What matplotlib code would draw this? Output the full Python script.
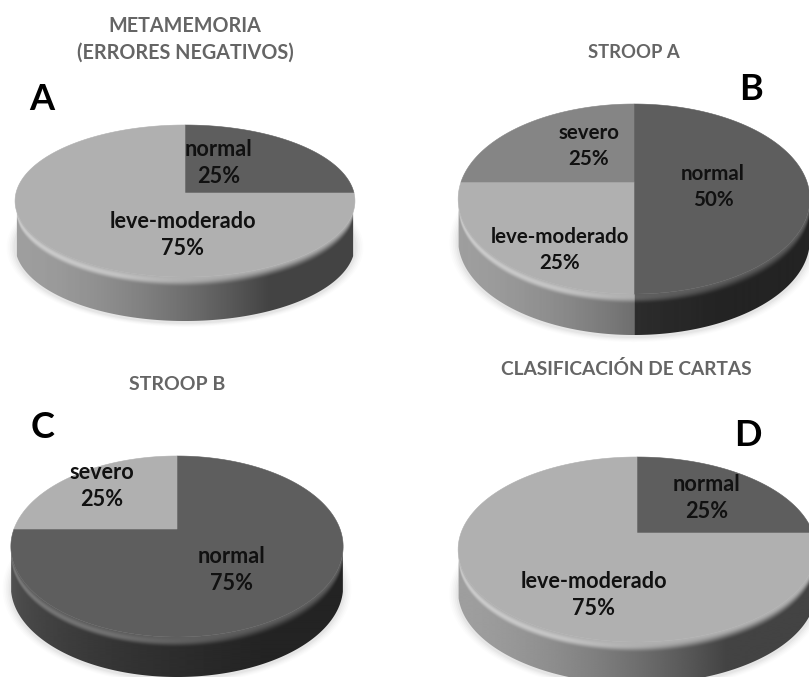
import numpy as np
import matplotlib
matplotlib.use('Agg')
import matplotlib.pyplot as plt
from matplotlib.patches import Polygon

plt.rcParams['font.family'] = ['Lato', 'DejaVu Sans']

W, H = 809, 677

# values of each pie, clockwise from twelve o'clock
meta_labels = ['normal', 'leve-moderado']
meta_values = [25, 75]
stroop_a_labels = ['normal', 'leve-moderado', 'severo']
stroop_a_values = [50, 25, 25]
stroop_b_labels = ['normal', 'severo']
stroop_b_values = [75, 25]
cartas_labels = ['normal', 'leve-moderado']
cartas_values = [25, 75]

DARK, MID, LIGHT = 0.37, 0.52, 0.69
TITLE_GREY = '#656565'


def disk(a, cx, cy, rx, top, bottom, drop=0.0):
    """Tilted unit circle: a in radians, returns pixel coordinates."""
    k = (bottom - top) / (bottom + top)
    ry = 2 * top * bottom / (top + bottom)
    u, v = np.cos(a), np.sin(a)
    s = 1 / (1 + k * v)
    return cx + rx * u * s, cy - ry * v * s + drop


def wall_grey(g, t):
    # light slices keep their brightness longer across the wall
    p = np.where(g > 0.5, 1.6, 0.5)
    return g * (0.9 - 0.52 * np.minimum(t / 0.75, 1) ** p)


def draw_wall(ax, edges, greys, cx, cy, rx, top, bottom, depth):
    # front half of the rim, left to right
    arc = np.linspace(np.pi + 0.25, 2 * np.pi - 0.25, 600)
    ax_x, ax_y = disk(arc, cx, cy, rx, top, bottom)
    xb, yb = disk(arc, cx, cy, rx, top, bottom, depth)
    outline = np.r_[np.c_[ax_x, ax_y], np.c_[xb, yb][::-1]]

    xs = np.arange(np.floor(ax_x[0]), np.ceil(ax_x[-1]) + 1, 0.5)
    ys = np.arange(np.floor(ax_y.min()) - 2, np.ceil(yb.max()) + 2, 0.5)
    gx, gy = np.meshgrid(xs, ys)

    rim = np.interp(xs, ax_x, ax_y)
    ang = np.interp(xs, ax_x, arc)
    # which slice sits above each column
    lookup = (np.pi / 2 - ang) % (2 * np.pi)
    start = (np.pi / 2 - edges[:-1]) % (2 * np.pi)
    stop = start + (edges[:-1] - edges[1:])
    col_g = np.zeros_like(xs)
    for s, e, g in zip(start, stop, greys):
        col_g[(lookup >= s - 1e-9) & (lookup <= e + 1e-9)] = g

    t = (gx - xs[0]) / (xs[-1] - xs[0])
    face = col_g[None, :] * np.ones_like(gx)
    side = wall_grey(face, t)

    # bevel: the face colour fades into the wall just below the rim
    width = 2 + 9 * np.clip(-np.sin(ang) / 0.35, 0, 1)
    f = np.clip((gy - rim[None, :]) / width[None, :], 0, 1)
    f = f * f * (3 - 2 * f)
    shine = 0.14 * np.clip(0.6 - (gx - cx) / rx, 0, 1) * np.sin(np.pi * f)
    img = np.clip(face * (1 - f) + side * f + shine, 0, 1)

    patch = Polygon(outline, transform=ax.transData, fc='none', ec='none')
    ax.add_patch(patch)
    im = ax.imshow(img, cmap='gray', vmin=0, vmax=1, aspect='auto', zorder=2,
                   extent=[xs[0], xs[-1], ys[-1], ys[0]], interpolation='bilinear')
    im.set_clip_path(patch)


def draw_pie(ax, labels, values, greys, label_xy, fs, cx, cy, rx, top, bottom, depth):
    edges = np.pi / 2 - 2 * np.pi * np.cumsum([0] + values) / sum(values)
    full = np.linspace(0, 2 * np.pi, 300)

    # soft ground shadow
    sx, sy = disk(full, cx, cy, rx, top, bottom, depth)
    for grow, alpha in zip([1.05, 1.04, 1.03, 1.02, 1.01], [0.012, 0.015, 0.02, 0.025, 0.03]):
        ax.fill(cx + (sx - cx) * grow, sy + 2 + (sy - sy.mean()) * (grow - 1),
                color='black', alpha=alpha, lw=0, zorder=1)

    draw_wall(ax, edges, greys, cx, cy, rx, top, bottom, depth)

    # top face
    for a0, a1, g in zip(edges[:-1], edges[1:], greys):
        a = np.linspace(a0, a1, 200)
        x, y = disk(a, cx, cy, rx, top, bottom)
        ax.fill(np.r_[cx, x], np.r_[cy, y], color=str(g), lw=0.4, zorder=4)

    for (tx, ty), name, val in zip(label_xy, labels, values):
        ax.text(tx, ty, f'{name}\n{val}%', ha='center', va='center', fontsize=fs,
                fontweight='bold', color='#111111', linespacing=1.4, zorder=6)


fig = plt.figure(figsize=(W / 100, H / 100), dpi=100)
ax = fig.add_axes([0, 0, 1, 1])

draw_pie(ax, meta_labels, meta_values, [DARK, LIGHT], [(219, 163), (183, 235)], 15.6,
         185, 193, 169, 68, 84, 44)
draw_pie(ax, stroop_a_labels, stroop_a_values, [DARK, LIGHT, MID],
         [(713, 187), (560, 250), (589, 146)], 14.8, 634, 182, 173, 78, 112, 41)
draw_pie(ax, stroop_b_labels, stroop_b_values, [DARK, LIGHT], [(232, 570), (102, 486)], 15.6,
         177, 529, 163, 73, 108, 40)
draw_pie(ax, cartas_labels, cartas_values, [DARK, LIGHT], [(707, 498), (594, 595)], 15.6,
         637, 533, 176, 76, 109, 42)

# chart titles
for x, y, t, fs in [(185, 39, 'METAMEMORIA\n(ERRORES NEGATIVOS)', 14.2), (634, 52, 'STROOP A', 13.3),
                    (177, 385, 'STROOP B', 14.0), (626, 369, 'CLASIFICACIÓN DE CARTAS', 13.8)]:
    ax.text(x, y, t, ha='center', va='center', fontsize=fs, fontweight='bold',
            color=TITLE_GREY, linespacing=1.4, zorder=6)

# panel letters
for x, y, t in [(42, 100, 'A'), (751, 90, 'B'), (43, 427, 'C'), (748, 435, 'D')]:
    ax.text(x, y, t, ha='center', va='center', fontsize=26, fontweight='bold',
            color='black', zorder=6)

ax.set_xlim(0, W)
ax.set_ylim(H, 0)
ax.axis('off')
fig.savefig('out.png', dpi=100, facecolor='white')
